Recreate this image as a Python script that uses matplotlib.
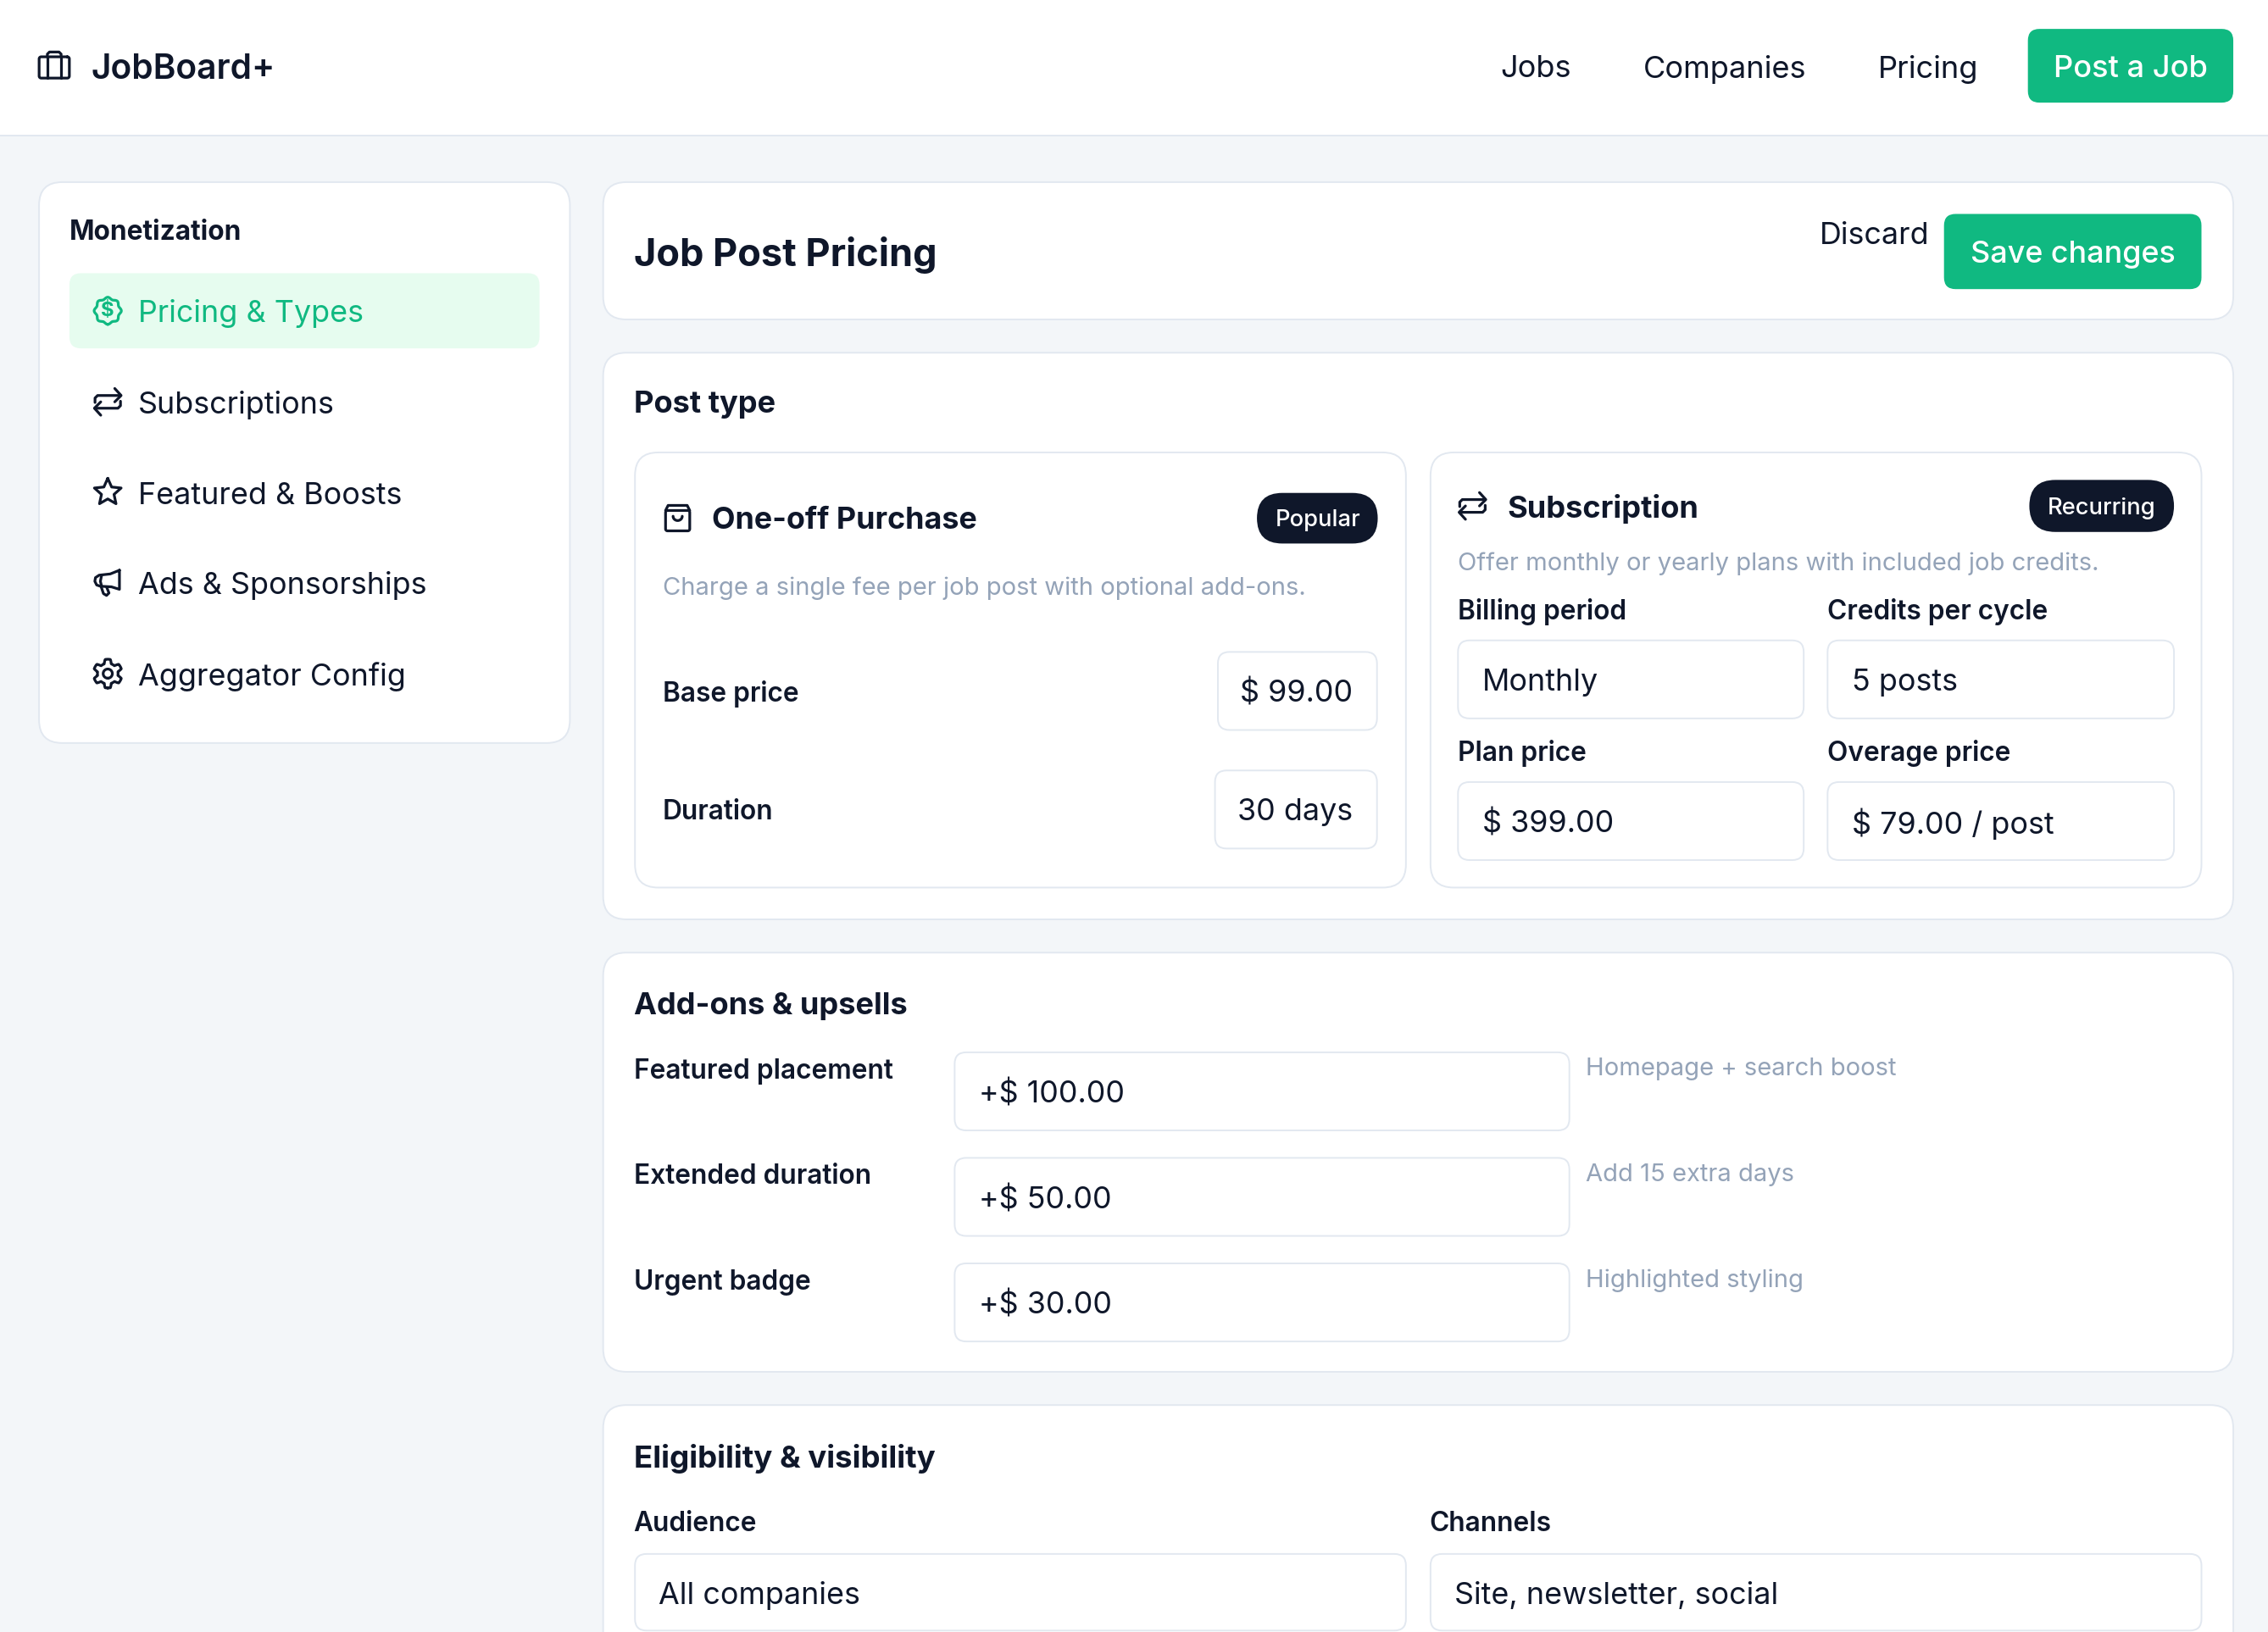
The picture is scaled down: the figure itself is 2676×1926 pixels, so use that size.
import matplotlib
matplotlib.use('Agg')
import matplotlib.pyplot as plt
import numpy as np
from matplotlib.patches import FancyBboxPatch

plt.rcParams['font.family'] = ['Inter', 'DejaVu Sans']

# texts
BRAND = 'JobBoard+'
NAV_LABELS = ['Jobs', 'Companies', 'Pricing']
POST_BUTTON = 'Post a Job'
SIDEBAR_TITLE = 'Monetization'
SIDEBAR_ITEMS = ['Pricing & Types', 'Subscriptions', 'Featured & Boosts', 'Ads & Sponsorships', 'Aggregator Config']
PAGE_TITLE = 'Job Post Pricing'
DISCARD = 'Discard'
SAVE = 'Save changes'
POST_TYPE = 'Post type'
ONEOFF_TITLE = 'One-off Purchase'
ONEOFF_BADGE = 'Popular'
ONEOFF_DESC = 'Charge a single fee per job post with optional add-ons.'
ONEOFF_LABELS = ['Base price', 'Duration']
ONEOFF_VALUES = ['$ 99.00', '30 days']
SUB_TITLE = 'Subscription'
SUB_BADGE = 'Recurring'
SUB_DESC = 'Offer monthly or yearly plans with included job credits.'
SUB_LABELS = ['Billing period', 'Credits per cycle', 'Plan price', 'Overage price']
SUB_VALUES = ['Monthly', '5 posts', '$ 399.00', '$ 79.00 / post']
ADDON_TITLE = 'Add-ons & upsells'
ADDON_LABELS = ['Featured placement', 'Extended duration', 'Urgent badge']
ADDON_VALUES = ['+$ 100.00', '+$ 50.00', '+$ 30.00']
ADDON_HINTS = ['Homepage + search boost', 'Add 15 extra days', 'Highlighted styling']
ELIG_TITLE = 'Eligibility & visibility'
ELIG_LABELS = ['Audience', 'Channels']
ELIG_VALUES = ['All companies', 'Site, newsletter, social']

DARK = '#0f172a'
GREEN = '#10b981'
BORDER = '#e2e8f0'
MUTED = '#94a3b8'
BG = '#f3f6f9'

BODY = 21.0
HEAD = 21.2
LABEL = 18.55
SMALL = 17.1

W, H = 1568, 1129
fig = plt.figure(figsize=(26.76, 19.26), dpi=100, facecolor=BG)
ax = fig.add_axes([0, 0, 1, 1])
ax.set_xlim(0, W)
ax.set_ylim(H, 0)
ax.axis('off')


def fs(px):
    # font size in picture px -> points
    return px * 2676 / W * 0.72


def box(x0, y0, x1, y1, r=8, fc='white', ec=BORDER, lw=1.4, z=1):
    p = FancyBboxPatch((x0, y0), x1 - x0, y1 - y0, boxstyle='round,pad=0,rounding_size=%g' % r,
                       fc=fc, ec=ec, lw=lw, zorder=z)
    ax.add_patch(p)


def solid(x0, y0, x1, y1, r, color, z=1):
    box(x0, y0, x1, y1, r, color, 'none', 0, z)


def txt(x, y, s, size=BODY, color=DARK, weight='normal', ha='left'):
    ax.text(x, y, s, fontsize=fs(size), color=color, fontweight=weight, ha=ha, va='center_baseline', zorder=5)


def stroke(cx, cy, pts, k, color=DARK, lw=2.3):
    pts = np.array(pts, dtype=float)
    ax.plot(cx + pts[:, 0] * k, cy + pts[:, 1] * k, color=color, lw=lw, solid_capstyle='round',
            solid_joinstyle='round', zorder=5)


def rrect(x0, y0, x1, y1, r):
    # closed rounded rectangle outline
    t = np.linspace(0, np.pi / 2, 8)
    out = []
    for cx, cy, a in [(x1 - r, y0 + r, -np.pi / 2), (x1 - r, y1 - r, 0), (x0 + r, y1 - r, np.pi / 2), (x0 + r, y0 + r, np.pi)]:
        out += [(cx + r * np.cos(a + u), cy + r * np.sin(a + u)) for u in t]
    out.append(out[0])
    return out


def icon_briefcase(cx, cy):
    k = 0.95
    stroke(cx, cy, rrect(-11, -6, 11, 9.5, 1.5), k)
    stroke(cx, cy, [(-5, -6), (-5, 9.5)], k)
    stroke(cx, cy, [(5, -6), (5, 9.5)], k)
    stroke(cx, cy, [(-5, -6), (-5, -8), (-3.5, -9.5), (3.5, -9.5), (5, -8), (5, -6)], k)


def icon_badge(cx, cy, color):
    th = np.linspace(0, 2 * np.pi, 160)
    r = 10.3 + 0.75 * np.cos(8 * th)
    stroke(cx, cy, np.c_[r * np.sin(th), r * np.cos(th)], 0.85, color)
    ax.text(cx, cy, '$', fontsize=fs(14), color=color, fontweight='bold', ha='center', va='center', zorder=5)


def icon_repeat(cx, cy, color=DARK, k=0.88):
    stroke(cx, cy, [(-10, 0.5), (-10, -3), (-8, -5), (10, -5)], k, color)
    stroke(cx, cy, [(5.5, -10.5), (10.5, -5), (5.5, 0)], k, color)
    stroke(cx, cy, [(10, -0.5), (10, 3), (8, 5), (-10, 5)], k, color)
    stroke(cx, cy, [(-5.5, 0), (-10.5, 5), (-5.5, 10.5)], k, color)


def icon_star(cx, cy):
    th = np.arange(11) * np.pi / 5
    r = np.where(np.arange(11) % 2 == 0, 11.3, 5.3)
    stroke(cx, cy + 0.6, np.c_[r * np.sin(th), -r * np.cos(th)], 0.86)


def icon_megaphone(cx, cy):
    k = 0.85
    stroke(cx, cy, [(9.5, -10), (9.5, 5.5), (3, 3.5), (-6, 3), (-9, 2), (-10.5, -1), (-10, -4), (-7, -6), (2, -7), (9.5, -10)], k)
    stroke(cx, cy, [(-5, -6), (-6, -1), (-5, 3)], k)
    stroke(cx, cy, [(-5.5, 3), (-3.5, 9), (-1, 10.5), (1, 8.5), (-1, 3.5)], k)


def icon_gear(cx, cy):
    th = np.linspace(0, 2 * np.pi, 240)
    r = 9.7 + 1.6 * np.clip(2.2 * np.cos(6 * th), -1, 1)
    stroke(cx, cy, np.c_[r * np.sin(th), r * np.cos(th)], 0.88)
    th2 = np.linspace(0, 2 * np.pi, 40)
    stroke(cx, cy, np.c_[3.6 * np.sin(th2), 3.6 * np.cos(th2)], 0.88)


def icon_bag(cx, cy):
    k = 0.88
    stroke(cx, cy, rrect(-9.5, -5.5, 9.5, 10.5, 1.5), k)
    stroke(cx, cy, [(-9.5, -5.5), (-7.5, -9.5), (7.5, -9.5), (9.5, -5.5)], k)
    th = np.linspace(0, np.pi, 16)
    stroke(cx, cy, np.c_[3.6 * np.cos(th), -1 + 3.4 * np.sin(th)], k)


# header
ax.fill_between([0, W], 0, 93, color='white', lw=0, zorder=0.5)
ax.plot([0, W], [93.5, 93.5], color=BORDER, lw=1.4, zorder=1)
icon_briefcase(37.5, 45)
txt(63, 46, BRAND, 23.8, weight=600)
for x, s in zip([1037, 1136, 1298.5], NAV_LABELS):
    txt(x, 46, s, 21.2)
solid(1402, 20, 1544, 71, 8, GREEN)
txt(1473, 46, POST_BUTTON, 21.2, 'white', 500, 'center')

# sidebar
box(27, 126, 394, 514, 16)
txt(48, 159, SIDEBAR_TITLE, LABEL, weight='bold')
solid(48, 189, 373, 241, 8, '#e6fcef', z=2)
for y, s, i in zip([215, 278, 341, 403, 466], SIDEBAR_ITEMS, range(5)):
    txt(95.5, y, s, BODY, GREEN if i == 0 else DARK)
icon_badge(74.5, 215, GREEN)
icon_repeat(74.5, 278)
icon_star(74.5, 340)
icon_megaphone(74.5, 403)
icon_gear(74.5, 466)

# page title
box(417, 126, 1544, 221, 16)
txt(438, 174, PAGE_TITLE, 26.4, weight='bold')
txt(1258, 161, DISCARD, BODY)
solid(1344, 148, 1522, 200, 8, GREEN)
txt(1433, 174, SAVE, BODY, 'white', 500, 'center')

# post type
box(417, 244, 1544, 636, 16)
txt(438, 278, POST_TYPE, HEAD, weight='bold')

box(439, 313, 972, 614, 16)
icon_bag(468.5, 358)
txt(492, 358, ONEOFF_TITLE, 21, weight='bold')
solid(869, 341, 952.5, 376, 17.5, DARK)
txt(911, 358, ONEOFF_BADGE, 16, 'white', 500, 'center')
txt(458, 405, ONEOFF_DESC, SMALL, MUTED)
txt(458, 478, ONEOFF_LABELS[0], LABEL, weight=600)
txt(458, 560, ONEOFF_LABELS[1], LABEL, weight=600)
box(842, 451, 952, 505)
box(840, 533, 952, 587)
txt(935.5, 478, ONEOFF_VALUES[0], BODY, ha='right')
txt(935.5, 560, ONEOFF_VALUES[1], BODY, ha='right')

box(989, 313, 1522, 614, 16)
icon_repeat(1018, 350)
txt(1042, 350, SUB_TITLE, HEAD, weight='bold')
solid(1403, 332, 1503, 368, 18, DARK)
txt(1453, 350, SUB_BADGE, 16, 'white', 500, 'center')
txt(1008, 388, SUB_DESC, SMALL, MUTED)
for j, (lx, x0, x1) in enumerate([(1008, 1008, 1247), (1263.5, 1263.5, 1503)] * 2):
    ly, y0 = (421, 443) if j < 2 else (519, 541)
    txt(lx, ly, SUB_LABELS[j], LABEL, weight=600)
    box(x0, y0, x1, y0 + 54)
    txt(x0 + 17, y0 + 27, SUB_VALUES[j], BODY)

# add-ons
box(417, 659, 1544, 949, 16)
txt(438, 694, ADDON_TITLE, HEAD, weight='bold')
for lab, val, hint, y0 in zip(ADDON_LABELS, ADDON_VALUES, ADDON_HINTS, [728, 801, 874]):
    txt(438, y0 + 11, lab, LABEL, weight=600)
    box(660, y0, 1085, y0 + 54)
    txt(677, y0 + 27, val, BODY)
    txt(1096.5, y0 + 10, hint, SMALL, MUTED)

# eligibility, runs off the bottom
box(417, 972, 1544, 1220, 16)
txt(438, 1007, ELIG_TITLE, 21.5, weight='bold')
for lab, val, x0, x1 in zip(ELIG_LABELS, ELIG_VALUES, [439, 989], [972, 1522]):
    txt(x0 - 1, 1052, lab, LABEL, weight=600)
    box(x0, 1075, x1, 1128)
    txt(x0 + 16.5, 1102, val, BODY)

fig.savefig('out.png', dpi=100, facecolor=BG)
